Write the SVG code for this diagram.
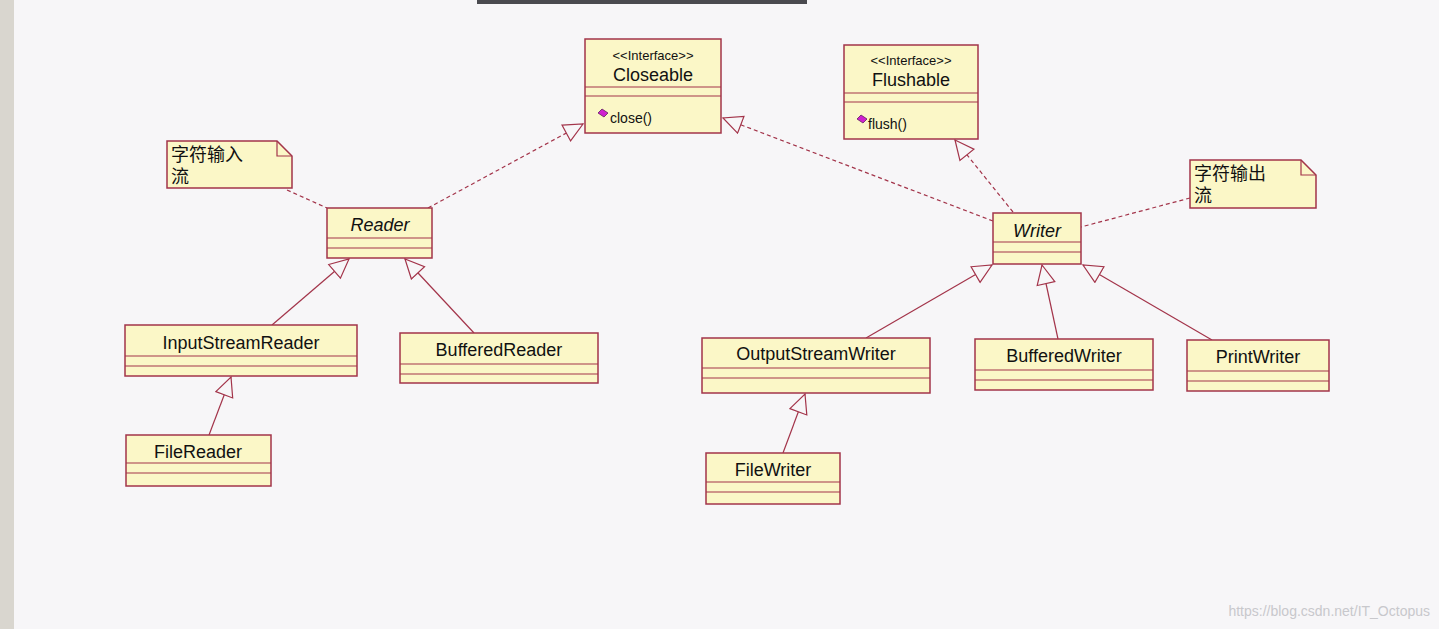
<svg xmlns="http://www.w3.org/2000/svg" width="1439" height="629" viewBox="0 0 1439 629">
<style>
.box{fill:#fbf7c7;stroke:#a3344a;stroke-width:1.5}
.ln{stroke:#a3344a;stroke-width:1.2}
.t{font-family:"Liberation Sans",Arial,sans-serif;font-size:18px;fill:#111;text-anchor:middle}
.s{font-family:"Liberation Sans",Arial,sans-serif;font-size:13px;fill:#111;text-anchor:middle}
.o{font-family:"Liberation Sans",Arial,sans-serif;font-size:14px;fill:#111}
.i{font-style:italic}
.n{font-family:"Liberation Sans","Noto Sans CJK SC",sans-serif;font-size:18px;fill:#111}
.c{fill:none;stroke:#a3344a;stroke-width:1.2}
.d{stroke-dasharray:4 3}
</style>
<defs>
<marker id="tri" markerUnits="userSpaceOnUse" markerWidth="24" markerHeight="24" refX="20" refY="10" orient="auto"><path d="M1,1 L20,10 L1,19 Z" fill="#f7f6f8" stroke="#a3344a" stroke-width="1.2"/></marker>
</defs>
<rect width="1439" height="629" fill="#f7f6f8"/>
<rect x="0" y="0" width="14" height="629" fill="#d9d6cf"/>
<rect x="477" y="0" width="330" height="4" fill="#4a4a4f"/>
<g id="connectors">
<line class="c d" x1="428" y1="208" x2="583" y2="124" marker-end="url(#tri)"/>
<line class="c d" x1="993" y1="221" x2="723" y2="118" marker-end="url(#tri)"/>
<line class="c d" x1="1013" y1="212" x2="955" y2="140" marker-end="url(#tri)"/>
<line class="c d" x1="287" y1="190" x2="327" y2="208"/>
<line class="c d" x1="1190" y1="198" x2="1081" y2="227"/>
<line class="c" x1="272" y1="325" x2="349" y2="259" marker-end="url(#tri)"/>
<line class="c" x1="474" y1="333" x2="405" y2="259" marker-end="url(#tri)"/>
<line class="c" x1="209" y1="435" x2="231" y2="377" marker-end="url(#tri)"/>
<line class="c" x1="866" y1="338" x2="992" y2="265" marker-end="url(#tri)"/>
<line class="c" x1="1058" y1="339" x2="1042" y2="265" marker-end="url(#tri)"/>
<line class="c" x1="1212" y1="340" x2="1083" y2="265" marker-end="url(#tri)"/>
<line class="c" x1="783" y1="453" x2="805" y2="394" marker-end="url(#tri)"/>
</g>
<g id="closeable"><rect class="box" x="585" y="39" width="136" height="94"/>
<line class="ln" x1="585" y1="87" x2="721" y2="87"/><line class="ln" x1="585" y1="96" x2="721" y2="96"/>
<text class="s" x="653" y="60">&lt;&lt;Interface&gt;&gt;</text><text class="t" x="653" y="81">Closeable</text>
<path d="M598,113 l4,-4 l6,4 l-4,4 z" fill="#d020d0" stroke="#602060" stroke-width="0.8"/>
<text class="o" x="610" y="123">close()</text></g>
<g id="flushable"><rect class="box" x="844" y="45" width="134" height="94"/>
<line class="ln" x1="844" y1="93" x2="978" y2="93"/><line class="ln" x1="844" y1="102" x2="978" y2="102"/>
<text class="s" x="911" y="65">&lt;&lt;Interface&gt;&gt;</text><text class="t" x="911" y="86">Flushable</text>
<path d="M857,119 l4,-4 l6,4 l-4,4 z" fill="#d020d0" stroke="#602060" stroke-width="0.8"/>
<text class="o" x="868" y="129">flush()</text></g>
<g id="note1"><path class="box" d="M167,141 H277 L292,156 V188 H167 Z"/><path class="c" d="M277,141 V156 H292"/>
<text class="n" x="171" y="161">字符输入</text><text class="n" x="171" y="183">流</text></g>
<g id="note2"><path class="box" d="M1190,160 H1301 L1316,175 V208 H1190 Z"/><path class="c" d="M1301,160 V175 H1316"/>
<text class="n" x="1194" y="180">字符输出</text><text class="n" x="1194" y="202">流</text></g>
<g id="reader"><rect class="box" x="327" y="208" width="105" height="50"/>
<line class="ln" x1="327" y1="238" x2="432" y2="238"/><line class="ln" x1="327" y1="248" x2="432" y2="248"/>
<text class="t i" x="380" y="231">Reader</text></g>
<g id="writer"><rect class="box" x="993" y="213" width="88" height="51"/>
<line class="ln" x1="993" y1="242" x2="1081" y2="242"/><line class="ln" x1="993" y1="252" x2="1081" y2="252"/>
<text class="t i" x="1037" y="237">Writer</text></g>
<g id="inputstreamreader"><rect class="box" x="125" y="325" width="232" height="51"/>
<line class="ln" x1="125" y1="356" x2="357" y2="356"/><line class="ln" x1="125" y1="366" x2="357" y2="366"/>
<text class="t" x="241" y="349">InputStreamReader</text></g>
<g id="bufferedreader"><rect class="box" x="400" y="333" width="198" height="50"/>
<line class="ln" x1="400" y1="364" x2="598" y2="364"/><line class="ln" x1="400" y1="374" x2="598" y2="374"/>
<text class="t" x="499" y="356">BufferedReader</text></g>
<g id="filereader"><rect class="box" x="126" y="435" width="145" height="51"/>
<line class="ln" x1="126" y1="463" x2="271" y2="463"/><line class="ln" x1="126" y1="473" x2="271" y2="473"/>
<text class="t" x="198" y="458">FileReader</text></g>
<g id="outputstreamwriter"><rect class="box" x="702" y="338" width="228" height="55"/>
<line class="ln" x1="702" y1="368" x2="930" y2="368"/><line class="ln" x1="702" y1="378" x2="930" y2="378"/>
<text class="t" x="816" y="360">OutputStreamWriter</text></g>
<g id="bufferedwriter"><rect class="box" x="975" y="339" width="178" height="51"/>
<line class="ln" x1="975" y1="370" x2="1153" y2="370"/><line class="ln" x1="975" y1="380" x2="1153" y2="380"/>
<text class="t" x="1064" y="362">BufferedWriter</text></g>
<g id="printwriter"><rect class="box" x="1187" y="340" width="142" height="51"/>
<line class="ln" x1="1187" y1="371" x2="1329" y2="371"/><line class="ln" x1="1187" y1="381" x2="1329" y2="381"/>
<text class="t" x="1258" y="363">PrintWriter</text></g>
<g id="filewriter"><rect class="box" x="706" y="453" width="134" height="51"/>
<line class="ln" x1="706" y1="482" x2="840" y2="482"/><line class="ln" x1="706" y1="492" x2="840" y2="492"/>
<text class="t" x="773" y="476">FileWriter</text></g>
<text x="1430" y="616" font-family="Liberation Sans,Arial,sans-serif" font-size="14" fill="#c8c8cc" text-anchor="end">https://blog.csdn.net/IT_Octopus</text>
</svg>
